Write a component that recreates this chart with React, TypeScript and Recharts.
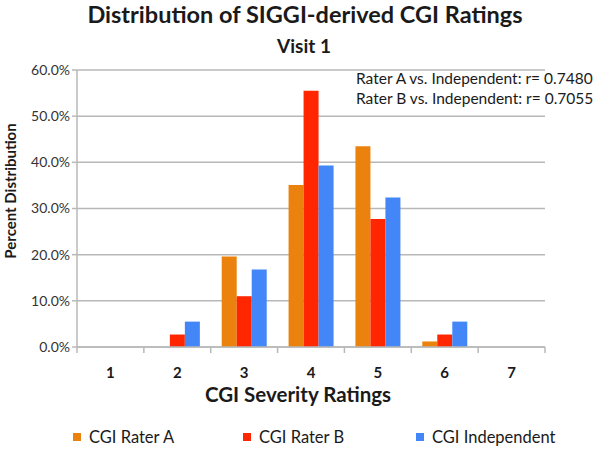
import React from "react";
import { BarChart, Bar, XAxis, YAxis, CartesianGrid } from "recharts";

const ratings = ["1", "2", "3", "4", "5", "6", "7"];
const raterA = [0, 0, 19.6, 35.1, 43.5, 1.2, 0];
const raterB = [0, 2.7, 11.0, 55.5, 27.7, 2.7, 0];
const independent = [0, 5.5, 16.8, 39.3, 32.4, 5.5, 0];
const yTicks = [0, 10, 20, 30, 40, 50, 60];
const notes = [
  "Rater A vs. Independent: r= 0.7480",
  "Rater B vs. Independent: r= 0.7055",
];

const COLORS = { a: "#EC820E", b: "#FF2600", ind: "#4286F7" };
const FONT = "Lato, 'Open Sans', sans-serif";
const TEXT = "#1a1a1a";
const AXIS = "#b8b8b8";

const data = ratings.map((r, i) => ({
  rating: r,
  a: raterA[i],
  b: raterB[i],
  ind: independent[i],
}));

const legendItems = [
  { key: "a", label: "CGI Rater A", x: 73 },
  { key: "b", label: "CGI Rater B", x: 243 },
  { key: "ind", label: "CGI Independent", x: 416 },
];

function XTick(props: any) {
  const { x, y, payload, index } = props;
  const half = payload?.offset || 33.4;
  const axisY = y - 8;
  return (
    <g>
      <line x1={x - half} x2={x - half} y1={axisY} y2={axisY + 6} stroke={AXIS} strokeWidth={1.5} />
      {index === ratings.length - 1 && (
        <line x1={x + half} x2={x + half} y1={axisY} y2={axisY + 6} stroke={AXIS} strokeWidth={1.5} />
      )}
      <text
        x={x}
        y={378}
        textAnchor="middle"
        fontFamily={FONT}
        fontWeight={700}
        fontSize={15}
        fill={TEXT}
      >
        {payload.value}
      </text>
    </g>
  );
}

export default function App() {
  return (
    <div style={{ position: "absolute", left: 0, top: 0, width: 600, height: 450, background: "#fff" }}>
      <BarChart
        width={600}
        height={450}
        data={data}
        margin={{ top: 70, right: 55, bottom: 73, left: 0 }}
        barGap={0}
        barSize={15}
      >
        <CartesianGrid vertical={false} stroke={AXIS} strokeWidth={1.5} />
        <XAxis
          dataKey="rating"
          height={30}
          stroke={AXIS}
          strokeWidth={1.5}
          tickLine={false}
          tick={<XTick />}
          interval={0}
        />
        <YAxis
          width={77}
          domain={[0, 60]}
          ticks={yTicks}
          stroke={AXIS}
          strokeWidth={1.5}
          tickSize={5}
          tickFormatter={(v: number) => `${v.toFixed(1)}%`}
          tick={{ fontFamily: FONT, fontSize: 14, fill: "#333" }}
        />
        <Bar dataKey="a" fill={COLORS.a} isAnimationActive={false} />
        <Bar dataKey="b" fill={COLORS.b} isAnimationActive={false} />
        <Bar dataKey="ind" fill={COLORS.ind} isAnimationActive={false} />
      </BarChart>
      <svg
        width={600}
        height={450}
        style={{ position: "absolute", left: 0, top: 0, pointerEvents: "none" }}
        fontFamily={FONT}
      >
        <text x={305} y={23} textAnchor="middle" fontSize={23.5} fontWeight={700} fill={TEXT}>
          Distribution of SIGGI-derived CGI Ratings
        </text>
        <text x={304} y={53} textAnchor="middle" fontSize={19} fontWeight={700} fill={TEXT}>
          Visit 1
        </text>
        {notes.map((n, i) => (
          <text key={n} x={356} y={84 + i * 20} fontSize={15.5} fill={TEXT}>
            {n}
          </text>
        ))}
        <text
          x={10}
          y={191}
          transform="rotate(-90 10 191)"
          textAnchor="middle"
          dominantBaseline="central"
          fontSize={15}
          fontWeight={700}
          fill={TEXT}
        >
          Percent Distribution
        </text>
        <text x={298} y={402} textAnchor="middle" fontSize={20.5} fontWeight={700} fill={TEXT}>
          CGI Severity Ratings
        </text>
        {legendItems.map((it) => (
          <g key={it.key}>
            <rect x={it.x} y={433} width={8} height={8} fill={(COLORS as any)[it.key]} />
            <text x={it.x + 16} y={443} fontSize={16.5} fill={TEXT}>
              {it.label}
            </text>
          </g>
        ))}
      </svg>
    </div>
  );
}
